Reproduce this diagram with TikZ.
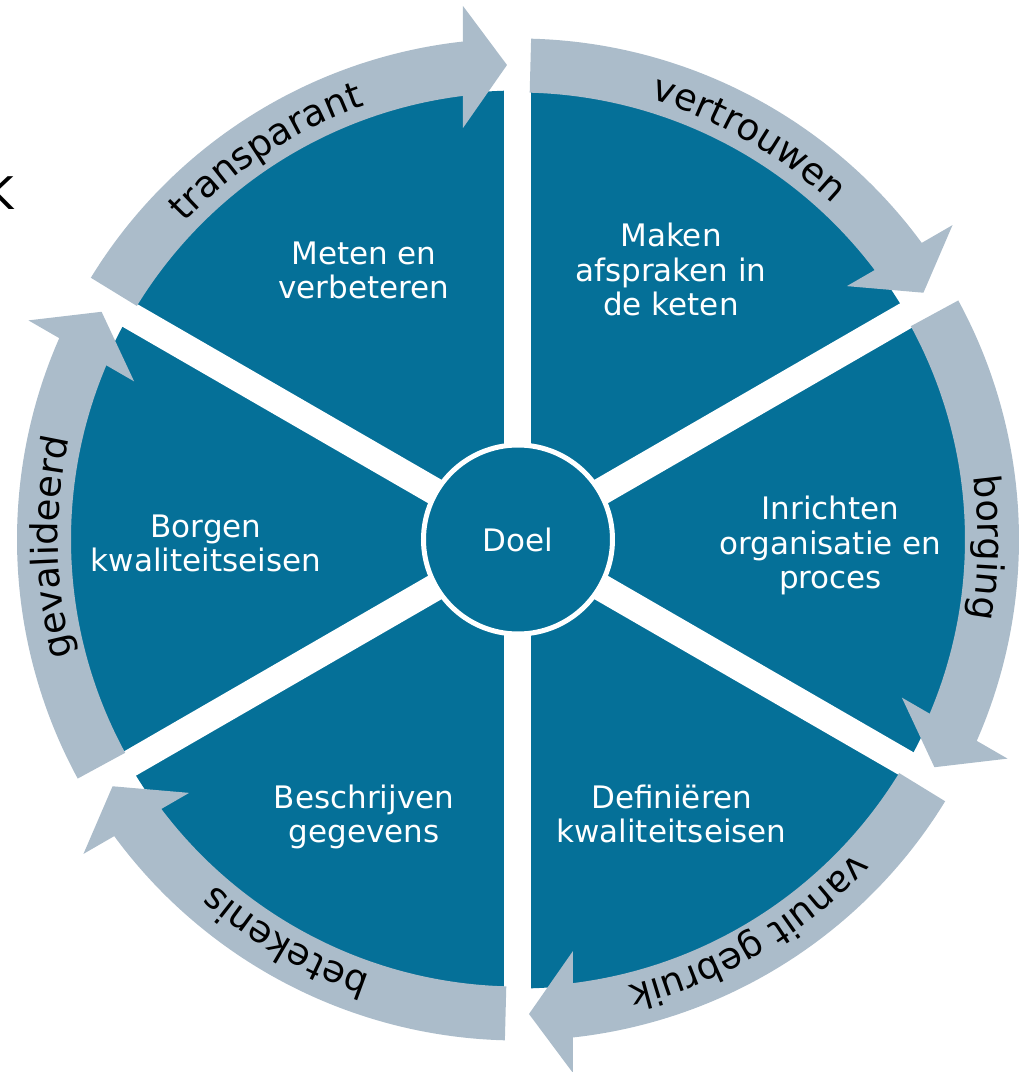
\documentclass[tikz,border=0pt]{standalone}
\usepackage{fontspec}
\setmainfont{DejaVu Sans}
\usetikzlibrary{decorations.text}
\definecolor{dblue}{RGB}{5,112,152}
\definecolor{agray}{RGB}{171,188,202}
\newcommand\arclabelfont{\fontsize{37}{40}\selectfont}
\begin{document}
\begin{tikzpicture}[x=1pt,y=1pt,
  sector/.style={fill=dblue},
  gapline/.style={draw=white, line width=27pt},
  ringarrow/.style={fill=agray},
  steptext/.style={text=white, align=center, inner sep=0pt, font=\fontsize{31}{34.5}\selectfont},
  arclabel/.style={decorate, decoration={text along path, text align=center, text={|\arclabelfont|#1}}}
]
\useasboundingbox (-518,-532.5) rectangle (507,539.5);
% partially visible letter at the left edge
\node[anchor=base east, inner sep=0pt, font=\fontsize{45}{45}\selectfont] (kletter) at (-504,329.5) {K};
% dark disc with white gaps
\fill[sector] (0,0) circle[radius=449];
\foreach \a in {90,30,-30,-90,-150,150} \draw[gapline] (0,0) -- (\a:452);
% circular arrows
\foreach \k in {0,...,5} {
  \begin{scope}[rotate=-60*\k]
    \fill[ringarrow] (148.5:501) arc[start angle=148.5, end angle=95, radius=501]
      -- (95:447) arc[start angle=95, end angle=148.5, radius=447] -- cycle;
    \fill[ringarrow] (-55,533.5) -- (-11,474.5) -- (-55,411.5) -- cycle;
  \end{scope}
}
% arc labels
\path[arclabel=transparant] (163:460) arc[start angle=163, end angle=83, radius=460];
\path[arclabel=vertrouwen] (100:460) arc[start angle=100, end angle=20, radius=460];
\path[arclabel=borging] (39:460) arc[start angle=39, end angle=-41, radius=460];
\path[arclabel={vanuit gebruik}] (-19.5:460) arc[start angle=-19.5, end angle=-99.5, radius=460];
\path[arclabel=betekenis] (-80:460) arc[start angle=-80, end angle=-160, radius=460];
\path[arclabel=gevalideerd] (221:460) arc[start angle=221, end angle=141, radius=460];
% sector texts
\node[steptext] (meten) at (-154,269) {Meten en\\verbeteren};
\node[steptext] (maken) at (153,270) {Maken\\afspraken in\\de keten};
\node[steptext] (inrichten) at (312.5,-6) {Inrichten\\organisatie en\\proces};
\node[steptext] (definieren) at (153.5,-274.5) {Definiëren\\kwaliteitseisen};
\node[steptext] (beschrijven) at (-154,-277.5) {Beschrijven\\gegevens};
\node[steptext] (borgen) at (-312,-4) {Borgen\\kwaliteitseisen};
% centre
\node[circle, fill=dblue, draw=white, line width=5pt, minimum size=189pt, inner sep=0pt,
      text=white, font=\fontsize{31}{34.5}\selectfont] (doel) at (0,0) {Doel\hspace{8pt}};
\end{tikzpicture}
\end{document}
